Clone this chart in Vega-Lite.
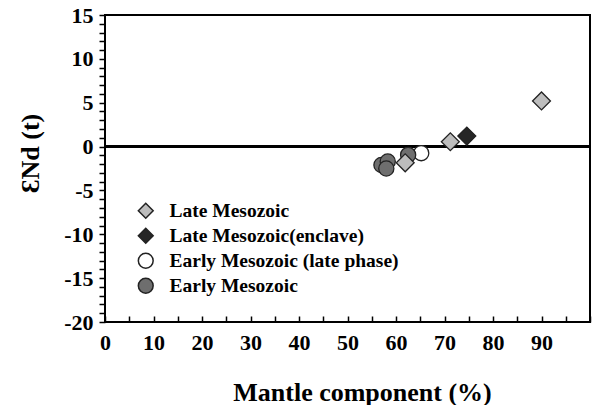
{
  "$schema": "https://vega.github.io/schema/vega-lite/v6.json",
  "width": 485,
  "height": 307,
  "autosize": {"type": "none"},
  "padding": {"left": 105, "top": 15, "right": 2, "bottom": 83},
  "background": "white",
  "config": {
    "font": "Liberation Serif",
    "view": {"stroke": "black", "strokeWidth": 2},
    "axis": {
      "grid": false,
      "domain": false,
      "ticks": true,
      "tickColor": "black",
      "tickWidth": 1.5,
      "labelFont": "Liberation Serif",
      "labelFontWeight": "bold",
      "labelFontSize": 22,
      "labelColor": "black",
      "titleFont": "Liberation Serif",
      "titleFontWeight": "bold",
      "titleFontSize": 26,
      "titleColor": "black"
    },
    "legend": {
      "labelFont": "Liberation Serif",
      "labelFontWeight": "bold",
      "labelFontSize": 19.5,
      "labelColor": "black"
    }
  },
  "data": {
    "values": [
      {"mantle": 90.0, "end": 5.2, "group": "Late Mesozoic"},
      {"mantle": 71.2, "end": 0.55, "group": "Late Mesozoic"},
      {"mantle": 61.9, "end": -1.85, "group": "Late Mesozoic"},
      {"mantle": 74.6, "end": 1.2, "group": "Late Mesozoic(enclave)"},
      {"mantle": 65.2, "end": -0.75, "group": "Early Mesozoic (late phase)"},
      {"mantle": 62.5, "end": -0.95, "group": "Early Mesozoic"},
      {"mantle": 57.0, "end": -2.1, "group": "Early Mesozoic"},
      {"mantle": 58.3, "end": -1.7, "group": "Early Mesozoic"},
      {"mantle": 58.0, "end": -2.5, "group": "Early Mesozoic"}
    ]
  },
  "encoding": {
    "x": {
      "field": "mantle",
      "type": "quantitative",
      "scale": {"domain": [0, 100], "nice": false, "zero": false},
      "axis": {
        "title": "Mantle component (%)",
        "titleX": 257,
        "values": [0, 5, 10, 15, 20, 25, 30, 35, 40, 45, 50, 55, 60, 65, 70, 75, 80, 85, 90, 95, 100],
        "labelExpr": "datum.value % 10 === 0 && datum.value < 100 ? '' + datum.value : ''",
        "tickSize": -6,
        "labelPadding": 16,
        "titlePadding": 26,
        "labelFlush": false,
        "labelOverlap": false
      }
    },
    "y": {
      "field": "end",
      "type": "quantitative",
      "scale": {"domain": [-20, 15], "nice": false, "zero": false},
      "axis": {
        "title": "ƐNd (t)",
        "titleY": 138,
        "values": [-20, -19, -18, -17, -16, -15, -14, -13, -12, -11, -10, -9, -8, -7, -6, -5, -4, -3, -2, -1, 0, 1, 2, 3, 4, 5, 6, 7, 8, 9, 10, 11, 12, 13, 14, 15],
        "labelExpr": "datum.value % 5 === 0 ? '' + datum.value : ''",
        "tickSize": 6,
        "tickColor": "black",
        "tickWidth": 1.5,
        "labelPadding": 6,
        "titlePadding": 20,
        "labelFlush": false,
        "labelOverlap": false
      }
    },
    "shape": {
      "field": "group",
      "type": "nominal",
      "scale": {
        "domain": ["Late Mesozoic", "Late Mesozoic(enclave)", "Early Mesozoic (late phase)", "Early Mesozoic"],
        "range": ["diamond", "diamond", "circle", "circle"]
      },
      "legend": {
        "title": null,
        "orient": "none",
        "legendX": 31,
        "legendY": 186,
        "padding": 0,
        "rowPadding": 3,
        "symbolSize": 220,
        "labelOffset": 14,
        "labelLimit": 400,
        "encode": {"symbols": {"update": {"stroke": {"value": "#222222"}, "strokeWidth": {"value": 1.3}}}}
      }
    },
    "fill": {
      "field": "group",
      "type": "nominal",
      "scale": {
        "domain": ["Late Mesozoic", "Late Mesozoic(enclave)", "Early Mesozoic (late phase)", "Early Mesozoic"],
        "range": ["#bdbdbd", "#262626", "#ffffff", "#6e6e6e"]
      },
      "legend": {
        "title": null,
        "orient": "none",
        "legendX": 31,
        "legendY": 186,
        "padding": 0,
        "rowPadding": 3,
        "symbolSize": 220,
        "labelOffset": 14,
        "labelLimit": 400,
        "encode": {"symbols": {"update": {"stroke": {"value": "#222222"}, "strokeWidth": {"value": 1.3}}}}
      }
    }
  },
  "layer": [
    {
      "mark": {"type": "rule", "stroke": "black", "strokeWidth": 2},
      "encoding": {"y": {"datum": 0}, "x": {"value": 0}, "x2": {"value": 485}, "shape": null, "fill": null}
    },
    {
      "transform": [{"filter": "indexof(datum.group, 'Early') === 0"}],
      "mark": {"type": "point", "filled": true, "size": 230, "stroke": "#222222", "strokeWidth": 1.3, "opacity": 1}
    },
    {
      "transform": [{"filter": "indexof(datum.group, 'Late') === 0"}],
      "mark": {"type": "point", "filled": true, "size": 320, "stroke": "#222222", "strokeWidth": 1.3, "opacity": 1}
    }
  ]
}
